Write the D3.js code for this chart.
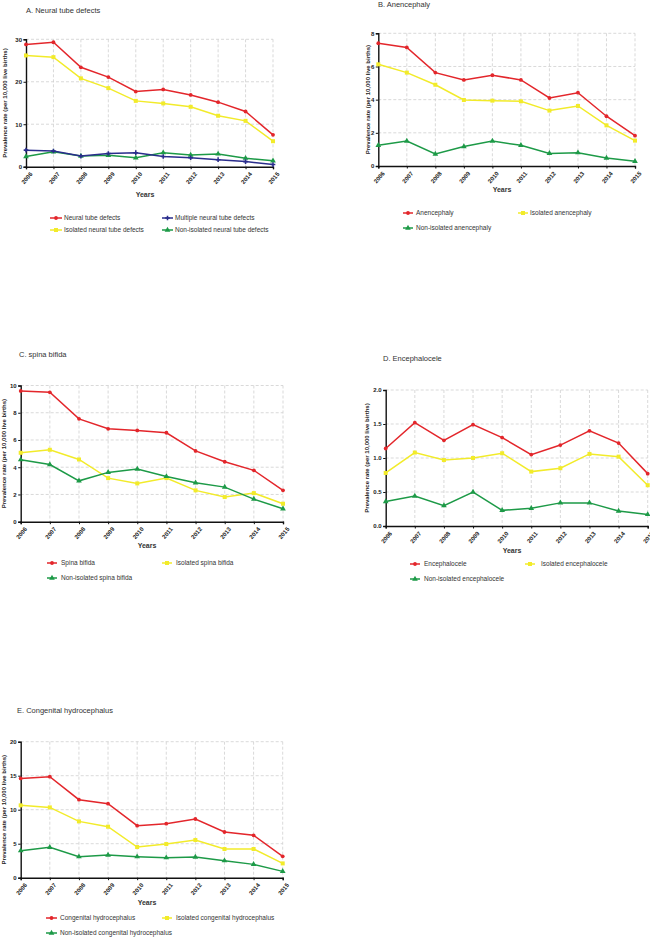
<!DOCTYPE html>
<html><head><meta charset="utf-8">
<script src="https://cdn.jsdelivr.net/npm/d3@7"></script>
<style>body{margin:0;background:#fff}svg{display:block}text{font-family:"Liberation Sans",Arial,sans-serif}</style>
</head><body>
<svg id="c" width="650" height="943"></svg>
<script>
const years = [2006,2007,2008,2009,2010,2011,2012,2013,2014,2015];

// A. Neural tube defects
const ntdAll = [28.8,29.3,23.4,21.1,17.7,18.2,16.9,15.2,13.0,7.5];
const ntdIsolated = [26.2,25.8,20.8,18.5,15.5,14.9,14.1,12.0,10.8,6.0];
const ntdMultiple = [3.9,3.7,2.5,3.1,3.3,2.4,2.1,1.65,1.2,0.5];
const ntdNonIsolated = [2.4,3.5,2.5,2.7,2.1,3.3,2.75,3.0,2.0,1.4];
// B. Anencephaly
const anAll = [7.4,7.15,5.63,5.19,5.47,5.19,4.1,4.42,3.0,1.83];
const anIsolated = [6.13,5.63,4.9,3.98,3.94,3.9,3.34,3.62,2.45,1.53];
const anNonIsolated = [1.25,1.5,0.72,1.17,1.5,1.25,0.76,0.8,0.48,0.28];
// C. Spina bifida
const sbAll = [9.6,9.5,7.55,6.82,6.7,6.53,5.2,4.4,3.77,2.3];
const sbIsolated = [5.06,5.28,4.57,3.2,2.81,3.2,2.3,1.81,2.1,1.32];
const sbNonIsolated = [4.55,4.2,3.0,3.62,3.86,3.32,2.86,2.54,1.66,0.95];
// D. Encephalocele
const enAll = [1.14,1.52,1.26,1.49,1.30,1.05,1.19,1.40,1.22,0.77];
const enIsolated = [0.78,1.08,0.97,1.0,1.07,0.8,0.85,1.06,1.02,0.6];
const enNonIsolated = [0.36,0.44,0.3,0.5,0.23,0.26,0.34,0.34,0.22,0.17];
// E. Congenital hydrocephalus
const hyAll = [14.6,14.85,11.47,10.88,7.65,7.94,8.63,6.72,6.23,3.14];
const hyIsolated = [10.64,10.34,8.28,7.5,4.51,4.95,5.54,4.22,4.22,2.1];
const hyNonIsolated = [3.97,4.46,3.09,3.33,3.09,2.94,3.04,2.5,1.96,0.93];

const titles = ["A. Neural tube defects","B. Anencephaly","C. spina bifida","D. Encephalocele","E. Congenital hydrocephalus"];
const yTicksA = [0,10,20,30], yTicksB = [0,2,4,6,8], yTicksC = [0,2,4,6,8,10], yTicksD = [0,0.5,1.0,1.5,2.0], yTicksE = [0,5,10,15,20];

const RED="#e3262b", YEL="#f2eb2a", GRN="#1d9a47", BLU="#2a2d8c";

const panels = [
  {title:titles[0], ticks:yTicksA, fmt:d3.format("d"), x0:26, x1:273, yT:39.3, yB:166.7, tx:26, ty:13, ylx:5, yrs:[145,197],
   leg:{rows:[218,230], c1:[50,62,64], c2:[162,173,175]},
   series:[{n:"Neural tube defects",v:ntdAll,c:RED,m:"circle",pos:[0,0]},
           {n:"Multiple neural tube defects",v:ntdMultiple,c:BLU,m:"cross",pos:[1,0]},
           {n:"Isolated neural tube defects",v:ntdIsolated,c:YEL,m:"square",pos:[0,1]},
           {n:"Non-isolated neural tube defects",v:ntdNonIsolated,c:GRN,m:"triangle",pos:[1,1]}],
   order:[2,0,3,1]},
  {title:titles[1], ticks:yTicksB, fmt:d3.format("d"), x0:378.3, x1:635, yT:33.3, yB:166, tx:378, ty:7, ylx:367.5, yrs:[502,192],
   leg:{rows:[213,228], c1:[403,413,416], c2:[518,528,530]},
   series:[{n:"Anencephaly",v:anAll,c:RED,m:"circle",pos:[0,0]},
           {n:"Isolated anencephaly",v:anIsolated,c:YEL,m:"square",pos:[1,0]},
           {n:"Non-isolated anencephaly",v:anNonIsolated,c:GRN,m:"triangle",pos:[0,1]}],
   order:[1,0,2]},
  {title:titles[2], ticks:yTicksC, fmt:d3.format("d"), x0:20.7, x1:283, yT:385.5, yB:521.7, tx:19, ty:357, ylx:4, yrs:[147,548],
   leg:{rows:[563,578], c1:[47,57,61], c2:[162,172,176]},
   series:[{n:"Spina bifida",v:sbAll,c:RED,m:"circle",pos:[0,0]},
           {n:"Isolated spina bifida",v:sbIsolated,c:YEL,m:"square",pos:[1,0]},
           {n:"Non-isolated spina bifida",v:sbNonIsolated,c:GRN,m:"triangle",pos:[0,1]}],
   order:[1,2,0]},
  {title:titles[3], ticks:yTicksD, fmt:d3.format(".1f"), x0:385.7, x1:647.7, yT:390, yB:526, tx:383, ty:361, ylx:367, yrs:[512,553],
   leg:{rows:[564,579], c1:[410,420,424], c2:[525,535,541]},
   series:[{n:"Encephalocele",v:enAll,c:RED,m:"circle",pos:[0,0]},
           {n:"Isolated encephalocele",v:enIsolated,c:YEL,m:"square",pos:[1,0]},
           {n:"Non-isolated encephalocele",v:enNonIsolated,c:GRN,m:"triangle",pos:[0,1]}],
   order:[1,2,0]},
  {title:titles[4], ticks:yTicksE, fmt:d3.format("d"), x0:20.7, x1:282.7, yT:741.7, yB:877.7, tx:17, ty:713, ylx:4, yrs:[147,905],
   leg:{rows:[918,933], c1:[46,57,60], c2:[162,172,176]},
   series:[{n:"Congenital hydrocephalus",v:hyAll,c:RED,m:"circle",pos:[0,0]},
           {n:"Isolated congenital hydrocephalus",v:hyIsolated,c:YEL,m:"square",pos:[1,0]},
           {n:"Non-isolated congenital hydrocephalus",v:hyNonIsolated,c:GRN,m:"triangle",pos:[0,1]}],
   order:[1,2,0]}
];

const svg = d3.select("#c");

function marker(g, type, x, y, color){
  if(type==="circle") g.append("circle").attr("cx",x).attr("cy",y).attr("r",1.9).attr("fill",color);
  else if(type==="square") g.append("rect").attr("x",x-2).attr("y",y-2).attr("width",4).attr("height",4).attr("fill",color);
  else if(type==="triangle") g.append("path").attr("d",d3.symbol(d3.symbolTriangle,14)()).attr("transform",`translate(${x},${y})`).attr("fill",color);
  else if(type==="cross") g.append("path").attr("d",d3.symbol(d3.symbolCross,12)()).attr("transform",`translate(${x},${y})`).attr("fill",color);
}

panels.forEach(p=>{
  const g = svg.append("g");
  const x = d3.scalePoint().domain(years).range([p.x0,p.x1]);
  const y = d3.scaleLinear().domain([0,p.ticks[p.ticks.length-1]]).range([p.yB,p.yT]);

  // grid
  g.append("g").selectAll("line").data(years.slice(1)).join("line")
    .attr("x1",d=>x(d)).attr("x2",d=>x(d)).attr("y1",p.yT).attr("y2",p.yB)
    .attr("stroke","#cfcfcf").attr("stroke-width",0.8).attr("stroke-dasharray","3,2");
  g.append("g").selectAll("line").data(p.ticks.slice(1)).join("line")
    .attr("x1",p.x0).attr("x2",p.x1).attr("y1",d=>y(d)).attr("y2",d=>y(d))
    .attr("stroke","#cfcfcf").attr("stroke-width",0.8).attr("stroke-dasharray","3,2");

  // axes
  const ya = g.append("g").attr("transform",`translate(${p.x0},0)`)
    .call(d3.axisLeft(y).tickValues(p.ticks).tickFormat(p.fmt).tickSize(2.5).tickPadding(1.5));
  const xa = g.append("g").attr("transform",`translate(0,${p.yB})`)
    .call(d3.axisBottom(x).tickSize(2.5).tickPadding(1));
  [ya,xa].forEach(a=>{
    a.select(".domain").attr("stroke","#111").attr("stroke-width",1.4);
    a.selectAll(".tick line").attr("stroke","#111").attr("stroke-width",1);
    a.selectAll("text").attr("font-size",6).attr("font-weight","bold").attr("fill","#222")
      .attr("font-family","'Liberation Sans',Arial,sans-serif");
  });
  xa.selectAll("text").attr("text-anchor","end").attr("dy","0.35em")
    .attr("transform","translate(2,4) rotate(-50)");

  // series
  const line = d3.line().x((d,i)=>x(years[i])).y(d=>y(d));
  p.order.forEach(si=>{
    const s = p.series[si];
    g.append("path").datum(s.v).attr("d",line).attr("fill","none").attr("stroke",s.c).attr("stroke-width",1.5);
    const mg = g.append("g");
    s.v.forEach((v,i)=>marker(mg,s.m,x(years[i]),y(v),s.c));
  });

  // title
  g.append("text").attr("x",p.tx).attr("y",p.ty).attr("font-size",7.5).attr("fill","#333").text(p.title);
  // y label
  g.append("text").attr("transform",`translate(${p.ylx},${(p.yT+p.yB)/2}) rotate(-90)`)
    .attr("text-anchor","middle").attr("dy","0.35em").attr("font-size",6).attr("font-weight","bold").attr("fill","#222")
    .text("Prevalence rate (per 10,000 live births)");
  // x label
  g.append("text").attr("x",p.yrs[0]).attr("y",p.yrs[1]).attr("text-anchor","middle")
    .attr("font-size",7).attr("font-weight","bold").attr("fill","#333").text("Years");

  // legend
  p.series.forEach(s=>{
    const col = s.pos[0]===0 ? p.leg.c1 : p.leg.c2;
    const ry = p.leg.rows[s.pos[1]];
    g.append("line").attr("x1",col[0]).attr("x2",col[1]).attr("y1",ry).attr("y2",ry).attr("stroke",s.c).attr("stroke-width",1.5);
    marker(g,s.m,(col[0]+col[1])/2,ry,s.c);
    g.append("text").attr("x",col[2]).attr("y",ry).attr("dy","0.35em").attr("font-size",6.5).attr("fill","#333").text(s.n);
  });
});
</script>
</body></html>
